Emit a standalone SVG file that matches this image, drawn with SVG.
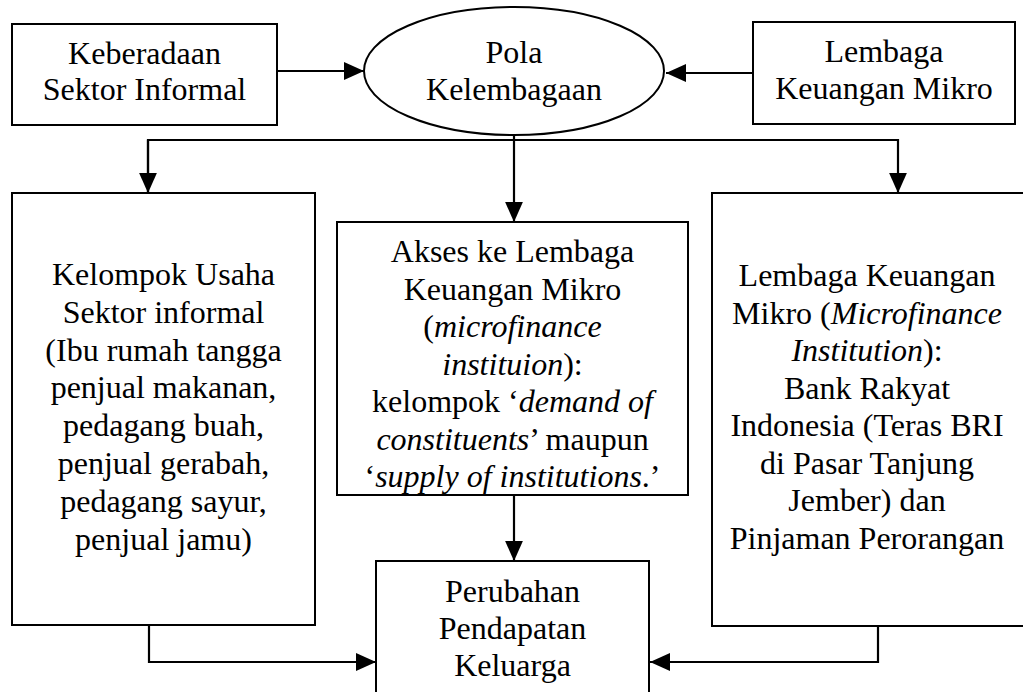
<svg xmlns="http://www.w3.org/2000/svg" width="1023" height="692" viewBox="0 0 1023 692">
<style>
.box{fill:#ffffff;stroke:#000;stroke-width:2}
.ln{fill:none;stroke:#000;stroke-width:2.2}
text{font-family:"Liberation Serif","Times New Roman",serif;font-size:32px;fill:#000;text-anchor:middle}
.i{font-style:italic}
</style>
<defs>
<marker id="ah" markerUnits="userSpaceOnUse" markerWidth="20" markerHeight="18" viewBox="0 0 18 16" refX="18" refY="8" orient="auto">
<path d="M0,0 L18,8 L0,16 Z" fill="#000"/>
</marker>
</defs>
<rect x="0" y="0" width="1023" height="692" fill="#ffffff"/>
<g id="connectors">
<line class="ln" x1="277" y1="71" x2="364" y2="71" marker-end="url(#ah)"/>
<line class="ln" x1="753" y1="73" x2="666" y2="73" marker-end="url(#ah)"/>
<polyline class="ln" points="148,193 148,140 898,140 898,193" marker-end="url(#ah)"/>
<line class="ln" x1="148" y1="140" x2="148" y2="193" marker-end="url(#ah)"/>
<line class="ln" x1="514" y1="135" x2="514" y2="222" marker-end="url(#ah)"/>
<line class="ln" x1="514" y1="495" x2="514" y2="561" marker-end="url(#ah)"/>
<polyline class="ln" points="149,625 149,662 376,662" marker-end="url(#ah)"/>
<polyline class="ln" points="878,626 878,662 650,662" marker-end="url(#ah)"/>
</g>
<g id="keberadaan">
<rect class="box" x="12" y="24" width="265" height="101"/>
<text x="144.5" y="64">Keberadaan</text>
<text x="144.5" y="100">Sektor Informal</text>
</g>
<g id="pola">
<ellipse class="box" cx="514" cy="71" rx="150" ry="64"/>
<text x="514" y="63">Pola</text>
<text x="514" y="100">Kelembagaan</text>
</g>
<g id="lembaga">
<rect class="box" x="753" y="22" width="262" height="102"/>
<text x="884" y="62">Lembaga</text>
<text x="884" y="99">Keuangan Mikro</text>
</g>
<g id="kelompok">
<rect class="box" x="12" y="193" width="303" height="432"/>
<text x="163.5" y="285">Kelompok Usaha</text>
<text x="163.5" y="322.8">Sektor informal</text>
<text x="163.5" y="360.6">(Ibu rumah tangga</text>
<text x="163.5" y="398.4">penjual makanan,</text>
<text x="163.5" y="436.2">pedagang buah,</text>
<text x="163.5" y="474">penjual gerabah,</text>
<text x="163.5" y="511.8">pedagang sayur,</text>
<text x="163.5" y="549.6">penjual jamu)</text>
</g>
<g id="akses">
<rect class="box" x="337" y="222" width="351" height="273"/>
<text x="512.5" y="262">Akses ke Lembaga</text>
<text x="512.5" y="299.5">Keuangan Mikro</text>
<text x="512.5" y="337">(<tspan class="i">microfinance</tspan></text>
<text x="512.5" y="374.5"><tspan class="i">instituion</tspan>):</text>
<text x="512.5" y="412">kelompok ‘<tspan class="i">demand of</tspan></text>
<text x="512.5" y="449.5"><tspan class="i">constituents</tspan>’ maupun</text>
<text x="512.5" y="487">‘<tspan class="i">supply of institutions</tspan>.’</text>
</g>
<g id="lkm">
<rect class="box" x="712" y="193" width="320" height="433"/>
<text x="867" y="286">Lembaga Keuangan</text>
<text x="867" y="323.5">Mikro (<tspan class="i">Microfinance</tspan></text>
<text x="867" y="361"><tspan class="i">Institution</tspan>):</text>
<text x="867" y="398.5">Bank Rakyat</text>
<text x="867" y="436">Indonesia (Teras BRI</text>
<text x="867" y="473.5">di Pasar Tanjung</text>
<text x="867" y="511">Jember) dan</text>
<text x="867" y="548.5">Pinjaman Perorangan</text>
</g>
<g id="perubahan">
<rect class="box" x="376" y="561" width="273" height="140"/>
<text x="512.5" y="602">Perubahan</text>
<text x="512.5" y="639">Pendapatan</text>
<text x="512.5" y="676">Keluarga</text>
</g>
</svg>
